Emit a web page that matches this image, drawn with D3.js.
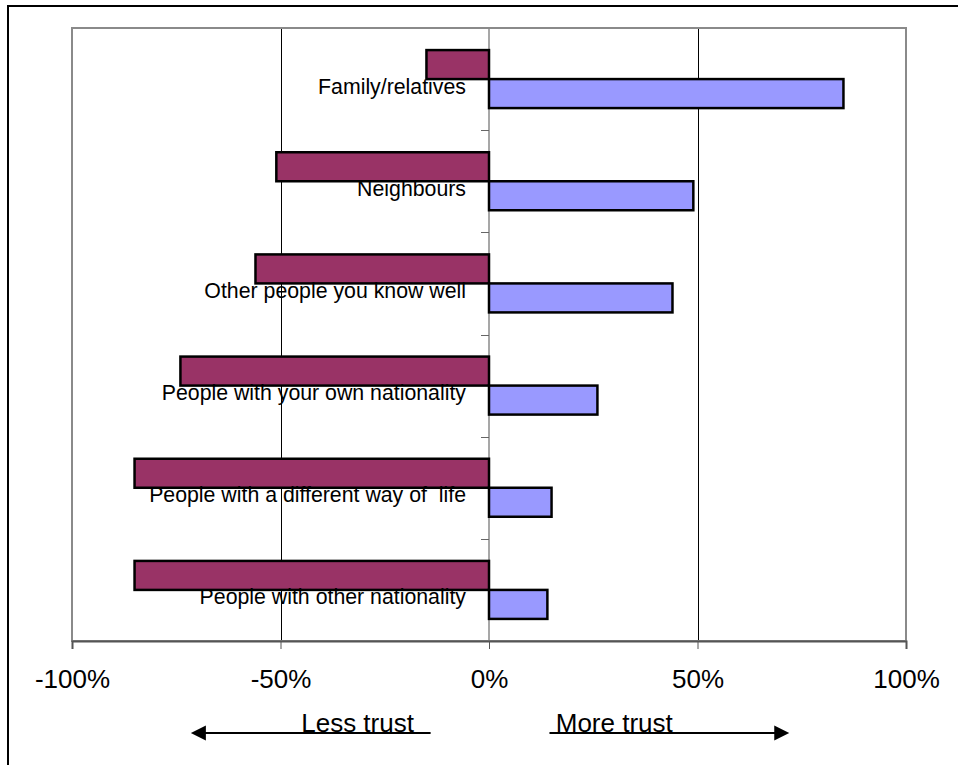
<!DOCTYPE html>
<html>
<head>
<meta charset="utf-8">
<script src="https://cdn.jsdelivr.net/npm/d3@7/dist/d3.min.js"></script>
<style>
  html, body { margin: 0; padding: 0; background: #fff; overflow: hidden; }
  svg { display: block; font-family: "Liberation Sans", Arial, sans-serif; }
</style>
</head>
<body>
<svg id="chart" width="958" height="765"></svg>
<script>
// Trust in groups of people: share with less trust (negative) and more trust (positive)
const categories = [
  "Family/relatives",
  "Neighbours",
  "Other people you know well",
  "People with your own nationality",
  "People with a different way of  life",
  "People with other nationality"
];
const lessTrust = [-15, -51, -56, -74, -85, -85];
const moreTrust = [85, 49, 44, 26, 15, 14];
const xTicks = [-100, -50, 0, 50, 100];
const directionLabels = ["Less trust", "More trust"];

const svg = d3.select("#chart");

// outer frame (runs past the right and bottom edges of the canvas)
svg.append("rect")
  .attr("x", 8).attr("y", 6).attr("width", 970).attr("height", 780)
  .attr("fill", "#fff").attr("stroke", "#000").attr("stroke-width", 2);

const plot = { left: 72, right: 906, top: 28, bottom: 641 };

const x = d3.scaleLinear().domain([-100, 100]).range([plot.left, plot.right]);

const pad = 1 - 58 / ((plot.bottom - plot.top) / categories.length);
const y = d3.scaleBand().domain(categories).range([plot.top, plot.bottom])
  .paddingInner(pad).paddingOuter(pad / 2);
const ySub = d3.scaleBand().domain(["less", "more"]).range([0, y.bandwidth()]);

// vertical gridlines
svg.append("g").selectAll("line")
  .data(xTicks.filter(t => t !== 0 && Math.abs(t) !== 100))
  .join("line")
  .attr("x1", d => Math.round(x(d)) + 0.5).attr("x2", d => Math.round(x(d)) + 0.5)
  .attr("y1", plot.top).attr("y2", plot.bottom)
  .attr("stroke", "#000").attr("stroke-width", 1);

// plot area border
svg.append("rect")
  .attr("x", plot.left).attr("y", plot.top)
  .attr("width", plot.right - plot.left).attr("height", plot.bottom - plot.top)
  .attr("fill", "none").attr("stroke", "#8a8a8a").attr("stroke-width", 2);

// category axis on zero line
const x0 = x(0);
svg.append("line")
  .attr("x1", x0).attr("x2", x0).attr("y1", plot.top).attr("y2", plot.bottom)
  .attr("stroke", "#8a8a8a").attr("stroke-width", 1.5);
const boundaries = categories.slice(1).map(c => y(c) - y.step() * pad / 2);
svg.append("g").selectAll("line").data(boundaries).join("line")
  .attr("x1", x0 - 8).attr("x2", x0)
  .attr("y1", d => Math.round(d) + 0.5).attr("y2", d => Math.round(d) + 0.5)
  .attr("stroke", "#666").attr("stroke-width", 1);

// bars
const rows = categories.map((c, i) => ({ c, less: lessTrust[i], more: moreTrust[i] }));
const g = svg.append("g");
g.selectAll("rect.less").data(rows).join("rect").attr("class", "less")
  .attr("x", d => x(d.less)).attr("width", d => x(0) - x(d.less))
  .attr("y", d => y(d.c) + ySub("less")).attr("height", ySub.bandwidth())
  .attr("fill", "#993366").attr("stroke", "#000").attr("stroke-width", 2.5);
g.selectAll("rect.more").data(rows).join("rect").attr("class", "more")
  .attr("x", x(0)).attr("width", d => x(d.more) - x(0))
  .attr("y", d => y(d.c) + ySub("more")).attr("height", ySub.bandwidth())
  .attr("fill", "#9999ff").attr("stroke", "#000").attr("stroke-width", 2.5);

// category labels
svg.append("g").selectAll("text").data(categories).join("text")
  .attr("x", x0 - 23)
  .attr("y", d => y(d) + y.bandwidth() / 2 + 14.5)
  .attr("text-anchor", "end")
  .attr("font-size", 21.3)
  .attr("fill", "#000")
  .style("white-space", "pre")
  .text(d => d);

// value axis
const xAxis = d3.axisBottom(x).tickValues(xTicks).tickSize(8).tickPadding(21)
  .tickFormat(d => d + "%");
const ax = svg.append("g").attr("transform", `translate(0,${plot.bottom})`).call(xAxis);
ax.select(".domain").attr("stroke", "#555").attr("stroke-width", 2);
ax.selectAll(".tick line").attr("stroke", "#555");
ax.selectAll(".tick text").attr("font-size", 26).attr("fill", "#000")
  .attr("font-family", "'Liberation Sans', Arial, sans-serif");

// direction arrows
const arrowY = 733;
const arrows = [
  { label: directionLabels[0], from: x(-14), to: x(-71.5), textEnd: x(-18) },
  { label: directionLabels[1], from: x(14.5), to: x(72), textStart: x(16) }
];
arrows.forEach(a => {
  const dir = Math.sign(a.to - a.from);
  svg.append("line")
    .attr("x1", a.from).attr("x2", a.to - dir * 12)
    .attr("y1", arrowY).attr("y2", arrowY)
    .attr("stroke", "#000").attr("stroke-width", 2);
  svg.append("path")
    .attr("d", `M${a.to},${arrowY} L${a.to - dir * 15},${arrowY - 7.5} L${a.to - dir * 15},${arrowY + 7.5} Z`)
    .attr("fill", "#000");
});
svg.append("text").attr("x", arrows[0].textEnd).attr("y", arrowY - 1)
  .attr("text-anchor", "end").attr("font-size", 26).text(arrows[0].label);
svg.append("text").attr("x", arrows[1].textStart).attr("y", arrowY - 1)
  .attr("text-anchor", "start").attr("font-size", 26).text(arrows[1].label);
</script>
</body>
</html>
